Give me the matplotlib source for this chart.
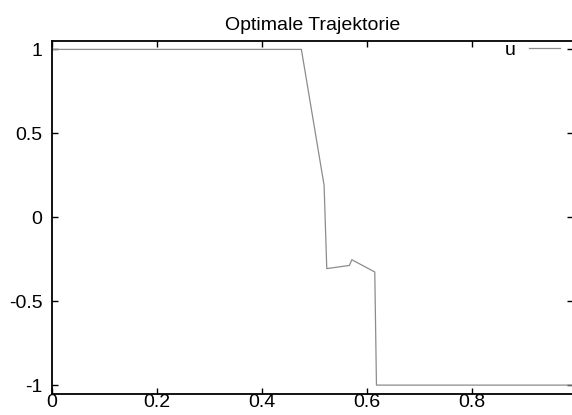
import matplotlib
matplotlib.use("Agg")
import matplotlib.pyplot as plt

# data
t = [0.0, 0.4753, 0.5186, 0.5237, 0.5669, 0.5714, 0.6152, 0.6184, 0.99]
u = [1.0, 1.0, 0.19, -0.306, -0.287, -0.253, -0.326, -1.0, -1.0]
xticks = [0, 0.2, 0.4, 0.6, 0.8]
xticklabels = ["0", "0.2", "0.4", "0.6", "0.8"]
yticks = [-1, -0.5, 0, 0.5, 1]
yticklabels = ["-1", "-0.5", "0", "0.5", "1"]
title = "Optimale Trajektorie"
series_name = "u"

plt.rcParams['font.family'] = ['Liberation Sans', 'DejaVu Sans']

fig = plt.figure(figsize=(5.72, 4.15), dpi=100)
ax = fig.add_axes([52/572, 1 - 393.5/415, (573 - 52)/572, (393.5 - 41)/415])

ax.plot(t, u, color='#8c8c8c', lw=0.9, label=series_name)
ax.set_xlim(0, 0.993)
ax.set_ylim(-1.05, 1.05)
ax.set_xticks(xticks)
ax.set_xticklabels(xticklabels)
ax.set_yticks(yticks)
ax.set_yticklabels(yticklabels)
ax.tick_params(direction='in', length=4, width=1, top=True, right=True,
               labelsize=14, colors='black')
ax.tick_params(axis='x', pad=0)
ax.tick_params(axis='y', pad=7)
for s in ax.spines.values():
    s.set_linewidth(1.3)
    s.set_color('black')

ax.set_title(title, fontsize=14, pad=8)
leg = ax.legend(loc='upper right', frameon=False, fontsize=14,
                markerfirst=False, handlelength=1.6, handletextpad=0.7,
                borderaxespad=0.0, borderpad=0.0,
                bbox_to_anchor=(0.976, 1.0))

fig.savefig("out.png", dpi=100)
